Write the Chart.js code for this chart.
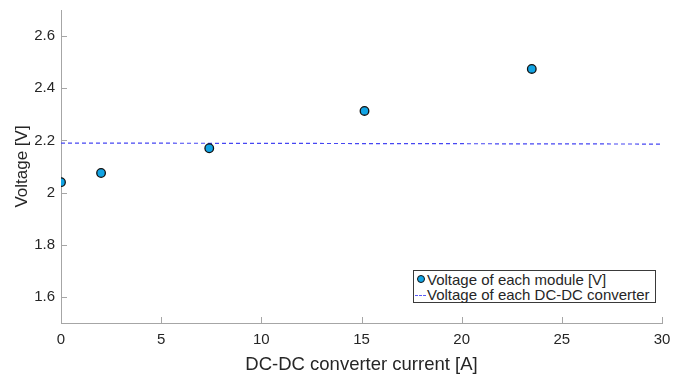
<!DOCTYPE html>
<html>
<head>
<meta charset="utf-8">
<script src="https://cdn.jsdelivr.net/npm/chart.js@4.4.1/dist/chart.umd.min.js"></script>
<style>
  html, body { margin: 0; padding: 0; background: #fff; }
  #wrap { position: relative; width: 674px; height: 376px; font-family: "Liberation Sans", Arial, sans-serif; }
  #legend {
    position: absolute; left: 413px; top: 270px; width: 241px; height: 31px;
    border: 1px solid #3a3a3a; background: #fff; color: #262626; font-size: 15px;
  }
  #legend .row { position: absolute; left: 0; height: 15px; line-height: 15px; white-space: nowrap; }
  #legend .txt { position: absolute; left: 13px; top: 0; }
  #legend .dot {
    position: absolute; left: 3px; top: 3px; width: 6px; height: 6px; border-radius: 50%;
    background: #12a4e4; border: 1.3px solid #111;
  }
  #legend .dash { position: absolute; left: 1px; top: 8px; width: 11px; border-top: 1px dashed #5a5af5; }
</style>
</head>
<body>
<div id="wrap">
  <canvas id="chart" width="674" height="376"></canvas>
  <div id="legend">
    <div class="row" style="top:1px"><span class="dot"></span><span class="txt">Voltage of each module [V]</span></div>
    <div class="row" style="top:16px"><span class="dash"></span><span class="txt">Voltage of each DC-DC converter</span></div>
  </div>
</div>
<script>
// values
var currents = [0, 2, 7.4, 15.15, 23.5];
var moduleVoltage = [2.04, 2.075, 2.17, 2.313, 2.474];
var converterX = [0, 30];
var converterVoltage = [2.19, 2.186];
var xTicks = [0, 5, 10, 15, 20, 25, 30];
var yTicks = [1.6, 1.8, 2.0, 2.2, 2.4, 2.6];

var textColor = "#262626";
var axisColor = "#a6a6a6";

// small ticks drawn inwards, like the original plot
var innerTicks = {
    id: "innerTicks",
    afterDraw: function(chart) {
        var ctx = chart.ctx, a = chart.chartArea;
        var xs = chart.scales.x, ys = chart.scales.y;
        ctx.save();
        ctx.strokeStyle = axisColor;
        ctx.lineWidth = 1;
        ctx.beginPath();
        xTicks.forEach(function(v) {
            var px = Math.round(xs.getPixelForValue(v)) + 0.5;
            ctx.moveTo(px, a.bottom);
            ctx.lineTo(px, a.bottom - 6);
        });
        yTicks.forEach(function(v) {
            var py = Math.round(ys.getPixelForValue(v)) + 0.5;
            ctx.moveTo(a.left, py);
            ctx.lineTo(a.left + 6, py);
        });
        ctx.stroke();
        ctx.restore();
    }
};

var ctx = document.getElementById("chart").getContext("2d");
new Chart(ctx, {
    type: "scatter",
    data: {
        datasets: [{
            label: "Voltage of each module [V]",
            data: currents.map(function(x, i) { return {x: x, y: moduleVoltage[i]}; }),
            pointRadius: 4.3,
            pointBackgroundColor: "#12a4e4",
            pointBorderColor: "#111",
            pointBorderWidth: 1.3,
            showLine: false,
            order: 1
        }, {
            label: "Voltage of each DC-DC converter",
            data: converterX.map(function(x, i) { return {x: x, y: converterVoltage[i]}; }),
            showLine: true,
            borderColor: "#4646f2",
            borderWidth: 1.2,
            borderDash: [4, 3],
            pointRadius: 0,
            order: 2
        }]
    },
    options: {
        responsive: false,
        animation: false,
        layout: { padding: { top: 10, right: 12, left: 0, bottom: 0 } },
        plugins: { legend: { display: false }, tooltip: { enabled: false } },
        scales: {
            x: {
                type: "linear",
                min: 0, max: 30,
                afterBuildTicks: function(s) { s.ticks = xTicks.map(function(v) { return {value: v}; }); },
                afterFit: function(s) { s.height = 53; s.paddingRight = 0; s.paddingLeft = 0; },
                grid: { display: false, drawTicks: false },
                border: { color: axisColor, width: 1 },
                ticks: {
                    color: textColor, padding: 8, maxRotation: 0,
                    font: { family: "Liberation Sans", size: 15 }
                },
                title: {
                    display: true, text: "DC-DC converter current [A]", color: textColor,
                    font: { family: "Liberation Sans", size: 18.5 }, padding: { top: 0, bottom: 0 }
                }
            },
            y: {
                min: 1.5, max: 2.7,
                afterBuildTicks: function(s) { s.ticks = yTicks.map(function(v) { return {value: v}; }); },
                afterFit: function(s) { s.width = 61; s.paddingTop = 0; s.paddingBottom = 0; },
                grid: { display: false, drawTicks: false },
                border: { color: axisColor, width: 1 },
                ticks: {
                    color: textColor, padding: 6,
                    font: { family: "Liberation Sans", size: 15 },
                    callback: function(v) { return String(Math.round(v * 10) / 10); }
                },
                title: {
                    display: true, text: "Voltage [V]", color: textColor,
                    font: { family: "Liberation Sans", size: 17 }, padding: { top: 12, bottom: 0 }
                }
            }
        }
    },
    plugins: [innerTicks]
});
</script>
</body>
</html>
